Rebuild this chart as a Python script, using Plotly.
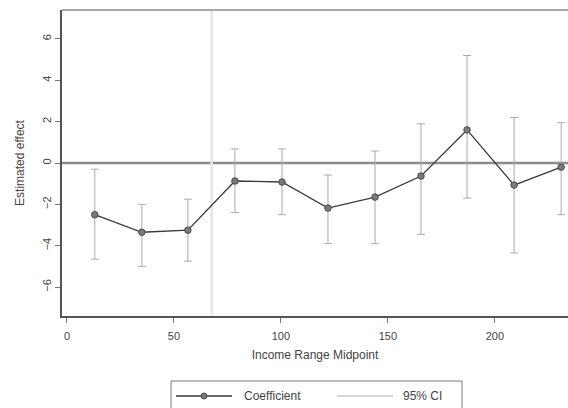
import plotly.graph_objects as go

# Income range midpoints (thousands) and estimated effects with 95% CIs
midpoint = [13, 35, 56.5, 78.5, 100.5, 122, 144, 165.5, 187, 209, 231]
coef = [-2.5, -3.35, -3.25, -0.87, -0.92, -2.18, -1.65, -0.63, 1.6, -1.07, -0.2]
ci_low = [-4.65, -5.0, -4.75, -2.4, -2.5, -3.9, -3.9, -3.45, -1.7, -4.35, -2.5]
ci_high = [-0.3, -2.0, -1.75, 0.68, 0.68, -0.58, 0.58, 1.9, 5.2, 2.2, 1.95]
y_ticks = [-6, -4, -2, 0, 2, 4, 6]
x_ticks = [0, 50, 100, 150, 200]
legend_labels = ["Coefficient", "95% CI"]

FONT = "Liberation Sans, Arial, sans-serif"
W, H = 568, 408
ML, MR, MT, MB = 62, 0, 10, 92
COEF_LINE = "#3a3a3a"
COEF_FILL = "#7a7a7a"
CI_COLOR = "#ababab"
CI_LEGEND = "#c8c8c8"

err_plus = [h - c for h, c in zip(ci_high, coef)]
err_minus = [c - l for c, l in zip(coef, ci_low)]


def px_to_paper(px, py):
    """Convert figure pixel position to paper coordinates."""
    pw = W - ML - MR
    ph = H - MT - MB
    return (px - ML) / pw, (H - MB - py) / ph


fig = go.Figure()

# confidence intervals as capped error bars
fig.add_trace(go.Scatter(
    x=midpoint, y=coef, mode="markers",
    marker=dict(size=1, opacity=0),
    error_y=dict(type="data", array=err_plus, arrayminus=err_minus,
                 color=CI_COLOR, thickness=1, width=4),
    showlegend=False, hoverinfo="skip",
))

# coefficient line with markers
fig.add_trace(go.Scatter(
    x=midpoint, y=coef, mode="lines+markers", name=legend_labels[0],
    line=dict(color=COEF_LINE, width=1.3),
    marker=dict(symbol="circle", size=6.5, color=COEF_FILL,
                line=dict(color="#4a4a4a", width=1)),
    showlegend=False,
))

# zero reference line
fig.add_hline(y=0, line=dict(color="#8c8c8c", width=2.5), layer="below")
# faint vertical guide
fig.add_vline(x=67.6, line=dict(color="#e6e6e6", width=2.5), layer="below")
# top frame line
fig.add_shape(type="line", xref="paper", yref="paper", x0=0, x1=1, y0=1, y1=1,
              line=dict(color="#8a8a8a", width=1.5))

# legend box below the axis title (runs off the bottom edge)
bx0, by0 = px_to_paper(171, 381)
bx1, by1 = px_to_paper(462, 430)
fig.add_shape(type="rect", xref="paper", yref="paper",
              x0=bx0, x1=bx1, y0=by1, y1=by0,
              line=dict(color="#777777", width=1), fillcolor="white")

row_y = 396
# coefficient key: line with a dot
lx0, ly = px_to_paper(176, row_y)
lx1, _ = px_to_paper(232, row_y)
fig.add_shape(type="line", xref="paper", yref="paper", x0=lx0, x1=lx1, y0=ly, y1=ly,
              line=dict(color=COEF_LINE, width=1.3))
mx, _ = px_to_paper(204, row_y)
fig.add_shape(type="circle", xref="paper", yref="paper",
              xsizemode="pixel", ysizemode="pixel", xanchor=mx, yanchor=ly,
              x0=-3, x1=3, y0=-3, y1=3,
              fillcolor=COEF_FILL, line=dict(color="#4a4a4a", width=1))
tx, _ = px_to_paper(242, row_y)
fig.add_annotation(x=tx, y=ly, xref="paper", yref="paper", text=legend_labels[0],
                   showarrow=False, xanchor="left", yanchor="middle",
                   font=dict(size=12, color="#444444"))

# CI key: plain light line
cx0, _ = px_to_paper(337, row_y)
cx1, _ = px_to_paper(393, row_y)
fig.add_shape(type="line", xref="paper", yref="paper", x0=cx0, x1=cx1, y0=ly, y1=ly,
              line=dict(color=CI_LEGEND, width=1.5))
tx2, _ = px_to_paper(401, row_y)
fig.add_annotation(x=tx2, y=ly, xref="paper", yref="paper", text=legend_labels[1],
                   showarrow=False, xanchor="left", yanchor="middle",
                   font=dict(size=12, color="#444444"))

fig.update_layout(
    width=W, height=H,
    margin=dict(l=ML, r=MR, t=MT, b=MB),
    paper_bgcolor="white", plot_bgcolor="white",
    font=dict(family=FONT, size=11, color="#444444"),
    showlegend=False,
    xaxis=dict(
        range=[-2.33, 234.2], tickvals=x_ticks, ticks="outside", ticklen=5,
        tickcolor="#777777", showgrid=False, zeroline=False,
        showline=True, linecolor="#555555", linewidth=1.5,
        ticklabelstandoff=4,
        title=dict(text="Income Range Midpoint", font=dict(size=12), standoff=10),
        tickfont=dict(size=11),
    ),
    yaxis=dict(
        range=[-7.4, 7.4], tickvals=y_ticks, ticks="outside", ticklen=5,
        tickcolor="#777777", showgrid=False, zeroline=False,
        showline=True, linecolor="#555555", linewidth=1.5,
        tickangle=-90, tickfont=dict(size=11),
        title=dict(text="Estimated effect", font=dict(size=12), standoff=14),
    ),
)

fig.write_html("out.html")
